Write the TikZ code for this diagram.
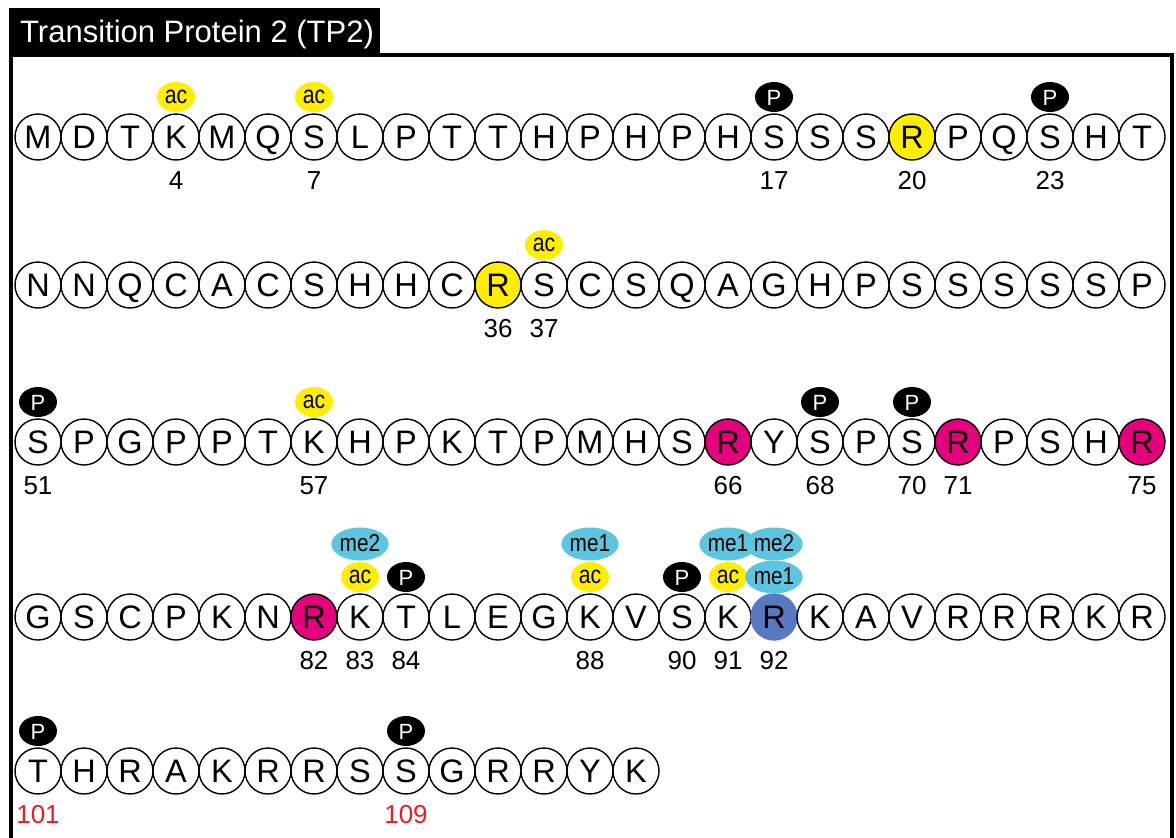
\documentclass[tikz,border=0pt]{standalone}
\usepackage{fontspec}
\setmainfont{Liberation Sans}
\newfontfamily\narrowfnt[FakeStretch=0.85]{Liberation Sans}
\usetikzlibrary{shapes.geometric}
\definecolor{tpyellow}{RGB}{255,238,0}
\definecolor{tpmagenta}{RGB}{229,0,125}
\definecolor{tpcyan}{RGB}{92,198,224}
\definecolor{tpblue}{RGB}{88,120,192}
\definecolor{tpred}{RGB}{236,28,36}
\newcommand\resrow[3]{%
  \foreach \l [count=\i from 0] in {#3} {%
    \pgfmathtruncatemacro\n{#2+\i}%
    \node[res, rs\n/.try] (a\n) at ({38+46*\i}, #1) {\l};
  }}
\tikzset{
  res/.style={circle, draw, fill=white, line width=1.4pt, minimum size=46pt, inner sep=0pt,
    font=\fontsize{32.5}{32.5}\selectfont, text height=23pt, text depth=0pt},
  rs20/.style={fill=tpyellow},
  rs36/.style={fill=tpyellow},
  rs66/.style={fill=tpmagenta},
  rs71/.style={fill=tpmagenta},
  rs75/.style={fill=tpmagenta},
  rs82/.style={fill=tpmagenta},
  rs92/.style={fill=tpblue, draw=tpblue},
  modbase/.style={ellipse, inner sep=0pt, minimum width=38pt, minimum height=30pt},
  acmod/.style={modbase, fill=tpyellow, font=\narrowfnt\fontsize{25}{25}\selectfont, text height=13pt, text depth=0pt},
  pmod/.style={modbase, fill=black, text=white, font=\fontsize{22}{22}\selectfont, text height=16pt, text depth=0pt},
  memod/.style={modbase, fill=tpcyan, minimum width=49pt, minimum height=33pt, font=\narrowfnt\fontsize{24.5}{24.5}\selectfont, text height=15pt, text depth=0pt},
  num/.style={inner sep=0pt, font=\fontsize{26}{26}\selectfont, text height=19pt, text depth=0pt},
  lvlone/.style={yshift=40pt},
  lvltwo/.style={yshift=73pt},
  numpos/.style={yshift=-43pt}
}
\begin{document}
\begin{tikzpicture}[x=1pt, y=-1pt]
\useasboundingbox (0,0) rectangle (1176,838);
\fill[white] (0,0) rectangle (1176,838);
% frame and title
\draw[line width=4pt] (11,838) -- (11,55) -- (1172,55) -- (1172,838);
\fill[black] (9,8) rectangle (380,56);
\node[anchor=base west, inner sep=0pt, text=white, font=\fontsize{31}{31}\selectfont] (title) at (20,42) {Transition Protein 2 (TP2)};
% residues
\resrow{137}{1}{M,D,T,K,M,Q,S,L,P,T,T,H,P,H,P,H,S,S,S,R,P,Q,S,H,T}
\resrow{285}{26}{N,N,Q,C,A,C,S,H,H,C,R,S,C,S,Q,A,G,H,P,S,S,S,S,S,P}
\resrow{442}{51}{S,P,G,P,P,T,K,H,P,K,T,P,M,H,S,R,Y,S,P,S,R,P,S,H,R}
\resrow{617}{76}{G,S,C,P,K,N,R,K,T,L,E,G,K,V,S,K,R,K,A,V,R,R,R,K,R}
\resrow{771}{101}{T,H,R,A,K,R,R,S,S,G,R,R,Y,K}
% acetylation
\foreach \k in {4,7,37,57,83,88,91} {\node[acmod, lvlone] (ac\k) at (a\k) {ac};}
% phosphorylation
\foreach \k in {17,23,51,68,70,84,90,101,109} {\node[pmod, lvlone] (p\k) at (a\k) {P};}
% methylation
\node[memod, lvltwo] (me83) at (a83) {me2};
\node[memod, lvltwo] (me88) at (a88) {me1};
\node[memod, lvltwo] (me91) at (a91) {me1};
\node[memod, lvlone] (mea92) at (a92) {me1};
\node[memod, lvltwo] (meb92) at (a92) {me2};
% numbers
\foreach \k in {4,7,17,20,23,36,37,51,57,66,68,70,71,75,82,83,84,88,90,91,92} {\node[num, numpos] (n\k) at (a\k) {\k};}
\foreach \k in {101,109} {\node[num, numpos, text=tpred] (n\k) at (a\k) {\k};}
\end{tikzpicture}
\end{document}
